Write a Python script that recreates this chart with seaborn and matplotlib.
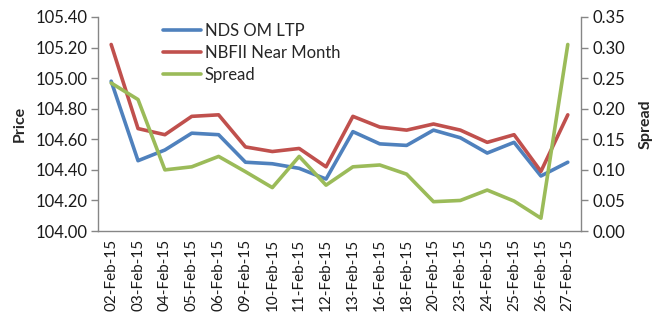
import matplotlib
matplotlib.use("Agg")
import matplotlib.pyplot as plt
import seaborn as sns
import pandas as pd
import numpy as np

dates = ["02-Feb-15", "03-Feb-15", "04-Feb-15", "05-Feb-15", "06-Feb-15", "09-Feb-15",
         "10-Feb-15", "11-Feb-15", "12-Feb-15", "13-Feb-15", "16-Feb-15", "18-Feb-15",
         "20-Feb-15", "23-Feb-15", "24-Feb-15", "25-Feb-15", "26-Feb-15", "27-Feb-15"]
nds_om_ltp = [104.98, 104.46, 104.53, 104.64, 104.63, 104.45, 104.44, 104.41, 104.34,
              104.65, 104.57, 104.56, 104.66, 104.61, 104.51, 104.58, 104.36, 104.45]
nbfii_near = [105.22, 104.67, 104.63, 104.75, 104.76, 104.55, 104.52, 104.54, 104.42,
              104.75, 104.68, 104.66, 104.70, 104.66, 104.58, 104.63, 104.39, 104.76]
spread = [0.242, 0.215, 0.100, 0.105, 0.122, 0.097, 0.071, 0.122, 0.075,
          0.105, 0.108, 0.093, 0.048, 0.050, 0.067, 0.049, 0.021, 0.305]

sns.set_theme(style="white")
plt.rcParams["font.family"] = ["Lato", "DejaVu Sans"]

BLUE, RED, GREEN = "#4F81BD", "#C0504D", "#9BBB59"
GRID = "#868686"

df = pd.DataFrame({"date": dates, "NDS OM LTP": nds_om_ltp,
                   "NBFII Near Month": nbfii_near, "Spread": spread})
df["pos"] = np.arange(len(dates))

fig = plt.figure(figsize=(6.56, 3.2), dpi=100)
ax = fig.add_axes([0.149, 0.278, 0.737, 0.669])
ax2 = ax.twinx()

lw = 2.6
sns.lineplot(data=df, x="pos", y="NDS OM LTP", ax=ax, color=BLUE, lw=lw, label="NDS OM LTP", legend=False)
sns.lineplot(data=df, x="pos", y="NBFII Near Month", ax=ax, color=RED, lw=lw, label="NBFII Near Month", legend=False)
sns.lineplot(data=df, x="pos", y="Spread", ax=ax2, color=GREEN, lw=lw, label="Spread", legend=False)

n = len(dates)
ax.set_xlim(-0.5, n - 0.5)
ax.set_ylim(104.0, 105.4)
ax.set_yticks(np.arange(104.0, 105.41, 0.2))
ax.set_yticklabels([f"{v:.2f}" for v in np.arange(104.0, 105.41, 0.2)])
ax2.set_ylim(0, 0.35)
ax2.set_yticks(np.arange(0, 0.351, 0.05))
ax2.set_yticklabels([f"{v:.2f}" for v in np.arange(0, 0.351, 0.05)])

ax.set_xticks(np.arange(n))
ax.set_xticklabels(dates, rotation=90)
ax.set_xticks(np.arange(-0.5, n, 1.0), minor=True)
ax.tick_params(axis="x", which="major", length=0, pad=6, labelsize=11, colors="#1a1a1a")
ax.tick_params(axis="x", which="minor", length=5, width=1, color=GRID, direction="out")
ax.tick_params(axis="y", length=5, width=1, color=GRID, direction="out", labelsize=12, colors="#1a1a1a", pad=2)
ax2.tick_params(axis="y", length=5, width=1, color=GRID, direction="out", labelsize=12, colors="#1a1a1a", pad=3)

ax.set_xlabel("")
ax.set_ylabel("Price", fontweight="bold", fontsize=11.5, labelpad=7)
ax2.set_ylabel("Spread", fontweight="bold", fontsize=11.5, labelpad=10)

for a in (ax, ax2):
    a.spines["top"].set_visible(False)
    for s in ("left", "right", "bottom"):
        a.spines[s].set_color(GRID)
        a.spines[s].set_linewidth(1)
    a.grid(False)
ax2.spines["left"].set_visible(False)
ax.spines["right"].set_visible(False)
ax2.spines["bottom"].set_visible(False)

handles = ax.get_lines()[:2] + ax2.get_lines()[:1]
labels = ["NDS OM LTP", "NBFII Near Month", "Spread"]
fig.legend(handles, labels, loc="upper left", bbox_to_anchor=(0.236, 0.955),
           frameon=False, fontsize=12, handlelength=2.3, handletextpad=0.2,
           labelspacing=0.36, borderpad=0)

fig.savefig("out.png", dpi=100, facecolor="white")
